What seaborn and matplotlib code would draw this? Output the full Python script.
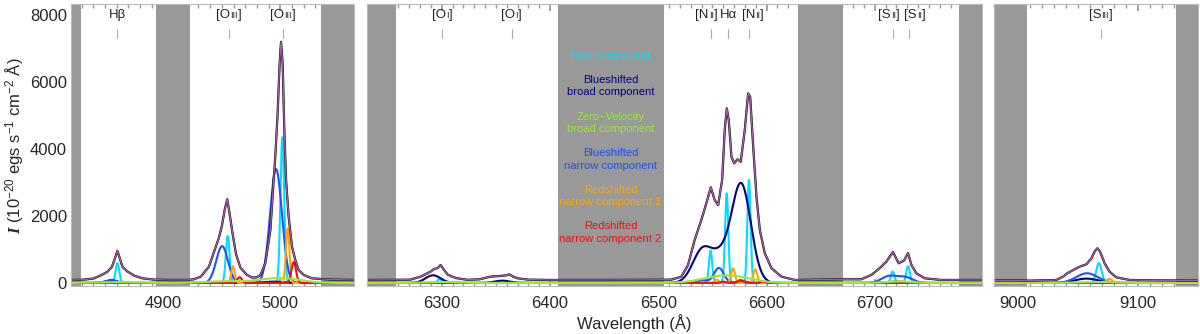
import numpy as np
import pandas as pd
import matplotlib
matplotlib.use("Agg")
import matplotlib.pyplot as plt
import seaborn as sns
from matplotlib.ticker import MultipleLocator
from matplotlib.offsetbox import TextArea, HPacker, AnnotationBbox

# ---- data ----
# fitted gaussian components: (centre [A], peak flux, sigma [A])
disc = [(4860.7, 590, 1.6), (4955.0, 1400, 1.6), (5001.7, 4350, 1.6),
        (6298.0, 130, 1.6), (6548.3, 970, 1.5), (6563.2, 2680, 1.5), (6583.8, 3080, 1.5),
        (6716.5, 340, 1.7), (6730.7, 500, 1.7), (9067.4, 590, 2.3)]
blue_broad = [(4855.0, 60, 6), (4994.0, 40, 8),
              (6292.0, 230, 7), (6356.0, 70, 7), (6541.0, 1000, 9), (6557.5, 620, 8),
              (6576.5, 2950, 9), (6720.0, 40, 8), (9057.0, 130, 10)]
zero_broad = [(4858.0, 25, 17), (4952.0, 50, 17), (4999.0, 150, 17),
              (6300.0, 30, 15), (6563.0, 230, 20), (6722.0, 45, 12), (9066.0, 30, 15)]
blue_narrow = [(4855.5, 95, 4.5), (4950.2, 1100, 5), (4996.3, 3400, 5.1),
               (6541.0, 80, 4.5), (6556.0, 450, 4.5), (6577.0, 60, 4.5),
               (6713.0, 200, 7), (6728.0, 170, 7), (9057.5, 290, 9)]
red_narrow1 = [(4864.7, 40, 1.6), (4959.5, 500, 1.5), (5006.3, 1630, 1.5),
               (6553.8, 100, 1.8), (6569.1, 440, 1.8), (6589.6, 410, 1.8),
               (6735.0, 40, 2), (9076.3, 120, 2.5)]
red_narrow2 = [(4965.2, 170, 2), (5011.4, 620, 2),
               (6560.0, 40, 2.5), (6576.0, 90, 2.5), (6596.0, 40, 2.5)]

# observed spectrum / total fit, one set per wavelength window
tot1_wave = [4821, 4830, 4840, 4846, 4852, 4856, 4859, 4860.7, 4862.5, 4865, 4869, 4875,
             4882, 4892, 4905, 4920, 4926, 4932, 4939, 4944, 4947.3, 4950, 4952.5, 4954.6,
             4956.5, 4958.7, 4960.5, 4962, 4965.8, 4971.5, 4976, 4980, 4983, 4987.2,
             4991.5, 4994.3, 4995.7, 4997.7, 4999.4, 5000.6, 5002, 5003.4, 5004.9, 5007.1,
             5010, 5012.8, 5015.6, 5020, 5027, 5035, 5045, 5063]
tot1_flux = [90, 95, 130, 220, 330, 480, 780, 960, 760, 480, 350, 220,
             140, 100, 90, 90, 110, 190, 490, 1000, 1330, 1700, 2200, 2500,
             2100, 1580, 1200, 880, 460, 240, 160, 170, 240, 590,
             1580, 3080, 3770, 5070, 6560, 7200, 6560, 4570, 3080, 1980,
             1080, 690, 390, 240, 140, 120, 100, 90]
tot2_wave = [6231, 6260, 6271, 6280.6, 6289.8, 6293, 6296, 6299, 6302, 6305.2, 6310, 6314.5,
             6323.8, 6335, 6345, 6354.6, 6360, 6362.3, 6366, 6370, 6380, 6400, 6450, 6500,
             6512, 6521.3, 6527.5, 6533.6, 6539.8, 6544.4, 6548.5, 6552.1, 6555.3, 6559,
             6561.4, 6563.3, 6565.1, 6567.6, 6570.1, 6573.1, 6576.2, 6579.9, 6583, 6584.9,
             6587.7, 6590.7, 6593.8, 6598.4, 6604.6, 6613.9, 6626.2, 6650, 6669, 6687.5,
             6696.8, 6704.4, 6710.6, 6716.8, 6722, 6726.9, 6730.7, 6733.8, 6738.4, 6746.1,
             6761.6, 6800]
tot2_flux = [90, 95, 100, 190, 340, 420, 440, 537, 400, 260, 180, 140,
             95, 110, 190, 210, 230, 260, 190, 140, 100, 90, 90, 95,
             100, 188, 537, 1284, 1881, 2379, 2856, 2478, 2328, 3075,
             4567, 5214, 4866, 3770, 3572, 3692, 3621, 4567, 5662, 5562,
             4069, 2576, 1582, 886, 438, 188, 90, 100, 110, 110,
             240, 438, 636, 925, 588, 666, 895, 537, 289, 140,
             90, 90]
tot3_wave = [8980, 9000, 9010, 9032, 9038, 9041, 9046, 9051.4, 9057, 9061.2, 9064, 9066.2,
             9068, 9069.5, 9072.2, 9076.3, 9081.9, 9093, 9110, 9150]
tot3_flux = [80, 80, 70, 90, 200, 289, 388, 487, 557, 736, 950, 1035,
             960, 836, 587, 338, 169, 90, 80, 70]

comp_names = ["Disc component", "Blueshifted\nbroad component",
              "Zero\u2212Velocity\nbroad component", "Blueshifted\nnarrow component",
              "Redshifted\nnarrow component 1", "Redshifted\nnarrow component 2"]
comp_colors = ["#00DDFF", "#000080", "#9AE83A", "#1F4FFF", "#FFA500", "#EE1111"]
comp_lines = [disc, blue_broad, zero_broad, blue_narrow, red_narrow1, red_narrow2]

# emission line labels: (text parts, label x, marker x)
big, small = 9.5, 6.5
labels1 = [([("H\u03b2", big)], 4860.7, 4860.7),
           ([("[O", big), ("III", small), ("]", big)], 4955.8, 4955.8),
           ([("[O", big), ("III", small), ("]", big)], 5002.3, 5002.3)]
labels2 = [([("[O", big), ("I", small), ("]", big)], 6300.6, 6300.6),
           ([("[O", big), ("I", small), ("]", big)], 6364.5, 6364.5),
           ([("[N", big), ("II", small), ("]", big)], 6544.5, 6549.0),
           ([("H\u03b1", big)], 6565.0, 6564.5),
           ([("[N", big), ("II", small), ("]", big)], 6587.5, 6584.0),
           ([("[S", big), ("II", small), ("]", big)], 6713.0, 6716.8),
           ([("[S", big), ("II", small), ("]", big)], 6737.0, 6732.0)]
labels3 = [([("[S", big), ("III", small), ("]", big)], 9068.8, 9068.8)]

# ---- styling ----
sns.set_theme(style="ticks")
plt.rcParams["font.family"] = ["Liberation Sans", "DejaVu Sans"]
plt.rcParams["mathtext.fontset"] = "custom"
plt.rcParams["mathtext.rm"] = "Liberation Sans"
plt.rcParams["mathtext.it"] = "Liberation Serif:italic"
plt.rcParams["mathtext.bf"] = "Liberation Serif:bold:italic"

fig = plt.figure(figsize=(12, 3.34), dpi=100)
W, H = 1200, 334
rects = [(71, 283), (367, 615), (994, 204)]
limits = [(4821, 5063), (6231, 6799), (8980, 9150)]
shades = [[(4821, 4829.5), (4894, 4923), (5035, 5063)],
          [(6231, 6258), (6407, 6505), (6629, 6671), (6778, 6800)],
          [(8980, 9007.5), (9132, 9150)]]
totals = [(tot1_wave, tot1_flux), (tot2_wave, tot2_flux), (tot3_wave, tot3_flux)]
all_labels = [labels1, labels2, labels3]
palette = dict(zip(comp_names, comp_colors))
draw_order = [comp_names[i] for i in (0, 1, 3, 4, 5, 2)]

axes = []
for k, ((left, width), (lo, hi)) in enumerate(zip(rects, limits)):
    ax = fig.add_axes([left / W, 48 / H, width / W, 282 / H])
    axes.append(ax)
    for a, b in shades[k]:
        ax.axvspan(a, b, color="#999999", lw=0, zorder=0)

    grid = np.linspace(lo, hi, 3000)
    frames = []
    for name, lines in zip(comp_names, comp_lines):
        flux = np.zeros_like(grid)
        for c, amp, sig in lines:
            if lo <= c <= hi:
                flux += amp * np.exp(-0.5 * ((grid - c) / sig) ** 2)
        frames.append(pd.DataFrame({"wave": grid, "flux": flux, "comp": name}))
    df = pd.concat(frames)
    sns.lineplot(data=df, x="wave", y="flux", hue="comp", hue_order=draw_order,
                 palette=palette, lw=1.5, legend=False, estimator=None, sort=False, ax=ax)

    tw, tf = totals[k]
    sns.lineplot(x=tw, y=tf, color="black", lw=1.6, estimator=None, ax=ax)
    sns.lineplot(x=tw, y=tf, color="#A65BA6", lw=1.0, estimator=None, ax=ax)

    for parts, xl, xm in all_labels[k]:
        kids = [TextArea(t, textprops=dict(fontsize=s, color="#222222")) for t, s in parts]
        box = HPacker(children=kids, align="center", pad=0, sep=0)
        ab = AnnotationBbox(box, (xl, 0.96), xycoords=("data", "axes fraction"),
                            frameon=False, box_alignment=(0.5, 0.5), pad=0)
        ax.add_artist(ab)
        ax.axvline(xm, ymin=0.878, ymax=0.913, color="#AAAAAA", lw=0.8)

    ax.set_xlim(lo, hi)
    ax.set_ylim(-90, 8330)
    ax.xaxis.set_major_locator(MultipleLocator(100))
    ax.xaxis.set_minor_locator(MultipleLocator(10))
    ax.yaxis.set_major_locator(MultipleLocator(2000))
    ax.yaxis.set_minor_locator(MultipleLocator(500))
    ax.tick_params(which="both", direction="in", top=True, color="#999999",
                   labelsize=12, pad=7)
    ax.tick_params(which="major", length=5)
    ax.tick_params(which="minor", length=3)
    ax.tick_params(axis="y", pad=3)
    ax.set_xlabel("")
    ax.set_ylabel("")
    for sp in ax.spines.values():
        sp.set_color("#BBBBBB")
        sp.set_linewidth(0.8)
    if k == 0:
        ax.tick_params(axis="y", left=True, right=False, labelleft=True)
    elif k == 2:
        ax.tick_params(axis="y", left=False, right=True, labelleft=False)
    else:
        ax.tick_params(axis="y", left=False, right=False, labelleft=False)

# component key written in the grey window of the middle panel
key_y = [0.813, 0.709, 0.579, 0.449, 0.319, 0.19]
for name, col, yy in zip(comp_names, comp_colors, key_y):
    axes[1].text(6456, yy, name, color=col, fontsize=8, ha="center", va="center",
                 linespacing=1.3, transform=axes[1].get_xaxis_transform())

fig.text(14 / W, 0.565, "$\\mathbf{I}$ (10$^{-20}$ egs s$^{-1}$ cm$^{-2}$ \u00c5)",
         rotation=90, ha="center", va="center", fontsize=12)
fig.text(634 / W, 11 / H, "Wavelength (\u00c5)", ha="center", va="center", fontsize=12)

fig.savefig("out.png", dpi=100)
